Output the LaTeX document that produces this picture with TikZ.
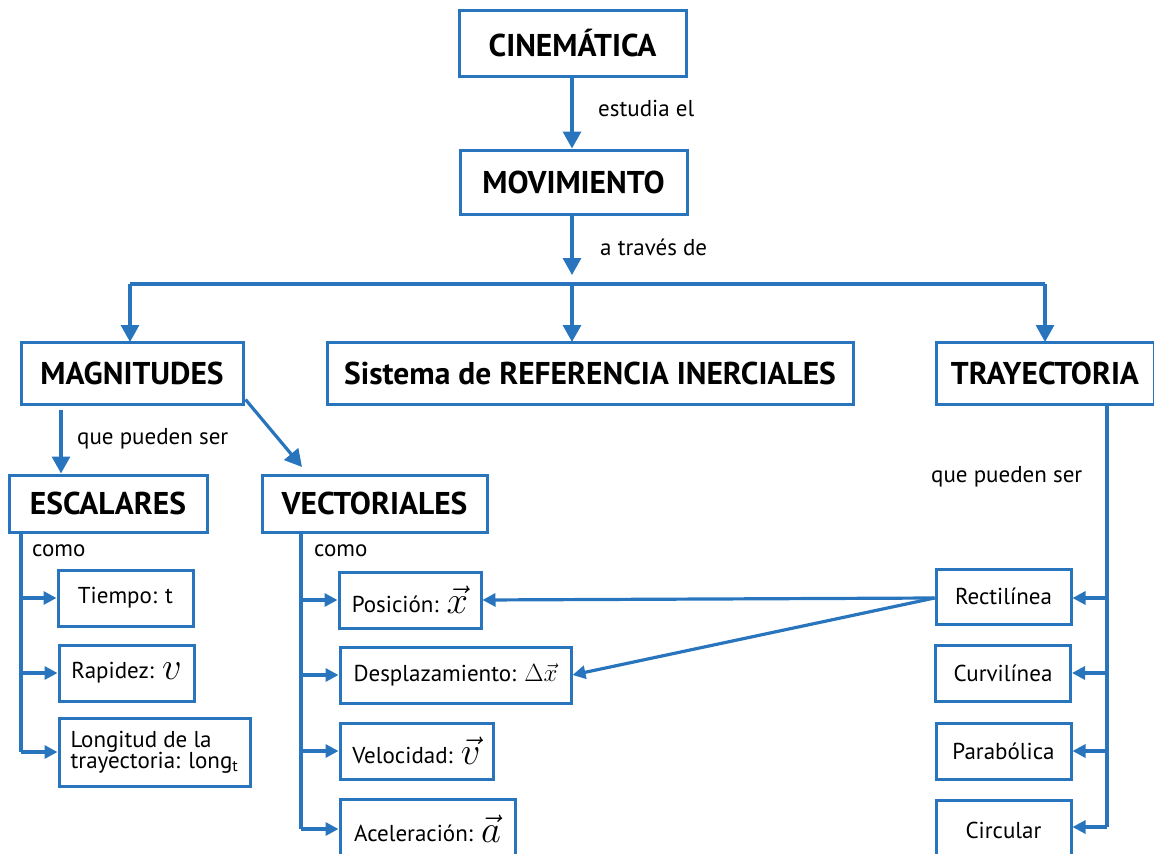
\documentclass[tikz,border=0pt]{standalone}
\usepackage{fontspec}
\usepackage{amsmath}
\usepackage{graphicx}
\setmainfont{PT Sans}
\usetikzlibrary{arrows.meta, calc}

\definecolor{mapblue}{RGB}{40,117,190}
\newcommand{\bigmath}[1]{\raisebox{-1pt}{\scalebox{1.55}{$#1$}}}

\begin{document}
\begin{tikzpicture}[x=1pt, y=-1pt,
    box/.style={draw=mapblue, line width=3pt, fill=white, inner sep=0pt},
    title/.style={box, font=\fontsize{31.5}{34}\selectfont\bfseries},
    item/.style={box, font=\fontsize{23}{25}\selectfont},
    lbl/.style={anchor=west, inner sep=0pt, font=\fontsize{23}{25}\selectfont},
    link/.style={mapblue, line width=3.2pt},
    bigarrow/.style={link, -{Triangle[length=17pt, width=18pt]}},
    smallarrow/.style={link, -{Triangle[length=13pt, width=13pt]}}]
            \useasboundingbox (0,0) rectangle (1154,854);
            % main column
            \node[title, minimum width=227, minimum height=66] (cine) at (572.5,43) {CINEMÁTICA};
            \node[title, minimum width=227, minimum height=64] (movi) at (573.5,182) {MOVIMIENTO};
            \coordinate (bar) at (572,275);
            \coordinate (hbar) at (572,284);
            \draw[bigarrow] (cine.south -| 572,0) -- (movi.north -| 572,0);
            \node[lbl] (estudia) at (598,108) {estudia el};
            \draw[bigarrow] (movi.south -| 572,0) -- (bar);
            \node[lbl] (traves) at (600,247) {a través de};
            % second row
            \node[title, minimum width=222, minimum height=62] (mag) at (132,373) {MAGNITUDES};
            \node[title, minimum width=526, minimum height=62] (sist) at (590,373) {Sistema de REFERENCIA INERCIALES};
            \node[title, minimum width=218, minimum height=62] (tray) at (1045,373) {TRAYECTORIA};
            \draw[link] (130,284) -- (1045,284);
            \draw[bigarrow] (130,284) -- (130,342);
            \draw[bigarrow] (hbar) -- (572,342);
            \draw[bigarrow] (1045,284) -- (1045,342);
            % magnitudes
            \node[title, minimum width=198, minimum height=57] (esc) at (108,503.5) {ESCALARES};
            \node[title, minimum width=225, minimum height=57] (vec) at (374.5,503.5) {VECTORIALES};
            \draw[bigarrow] (61,410) -- (esc.north -| 61,0);
            \node[lbl] (puedenA) at (77,439) {que pueden ser};
            \draw[bigarrow] ($(mag.south east)+(1,-6)$) -- (302,467);
            \node[lbl] (comoA) at (32,551) {como};
            \node[lbl] (comoB) at (314,551) {como};
            % escalares
            \node[item, minimum width=135, minimum height=56] (tiempo) at (125.5,598) {Tiempo: t\hspace{10pt}};
            \node[item, minimum width=135, minimum height=56] (rapidez) at (126.5,673) {Rapidez: \bigmath{v}\hspace{4pt}};
            \node[item, minimum width=191, minimum height=68, align=left] (long) at (154.5,752) {Longitud de la\\[-4pt]trayectoria: long\textsubscript{t}};
            \coordinate (escL) at (21,532);
            \draw[link] (escL) -- (escL |- long.west);
            \foreach \n in {tiempo, rapidez, long}
                \draw[smallarrow] (escL |- \n.west) -- (\n.west);
            % vectoriales
            \node[item, minimum width=142, minimum height=56] (pos) at (410,600) {Posición: \bigmath{\vec{x}}};
            \node[item, minimum width=231, minimum height=56] (despl) at (455.5,675) {Desplazamiento: $\Delta\vec{x}$};
            \node[item, minimum width=153, minimum height=56] (vel) at (416.5,751) {Velocidad: \bigmath{\vec{v}}};
            \node[item, minimum width=175, minimum height=60] (acel) at (427.5,829) {Aceleración: \bigmath{\vec{a}}};
            \coordinate (vecL) at (301,532);
            \draw[link] (vecL) -- (vecL |- acel.west);
            \foreach \n in {pos, despl, vel, acel}
                \draw[smallarrow] (vecL |- \n.west) -- (\n.west);
            % trayectoria
            \node[lbl] (puedenB) at (931,477) {que pueden ser};
            \node[item, minimum width=135, minimum height=55] (recti) at (1003.5,596.5) {Rectilínea};
            \node[item, minimum width=135, minimum height=56] (curvi) at (1003,673) {Curvilínea};
            \node[item, minimum width=135, minimum height=56] (parab) at (1003.5,751) {Parabólica};
            \node[item, minimum width=135, minimum height=60] (circ) at (1003.5,830) {Circular};
            \coordinate (trayR) at (1107,404);
            \draw[link] (trayR) -- (1107,827);
            \draw[smallarrow] (1107,598) -- (recti.east |- 0,598);
            \draw[smallarrow] (1107,673) -- (curvi.east);
            \draw[smallarrow] (1107,751) -- (parab.east);
            \draw[smallarrow] (1107,827) -- (circ.east |- 0,827);
            % links from rectilinea
            \draw[smallarrow] (recti.west |- 0,598) -- (pos.east);
            \draw[smallarrow] (recti.west |- 0,598) -- (despl.east);
        \end{tikzpicture}
\end{document}
